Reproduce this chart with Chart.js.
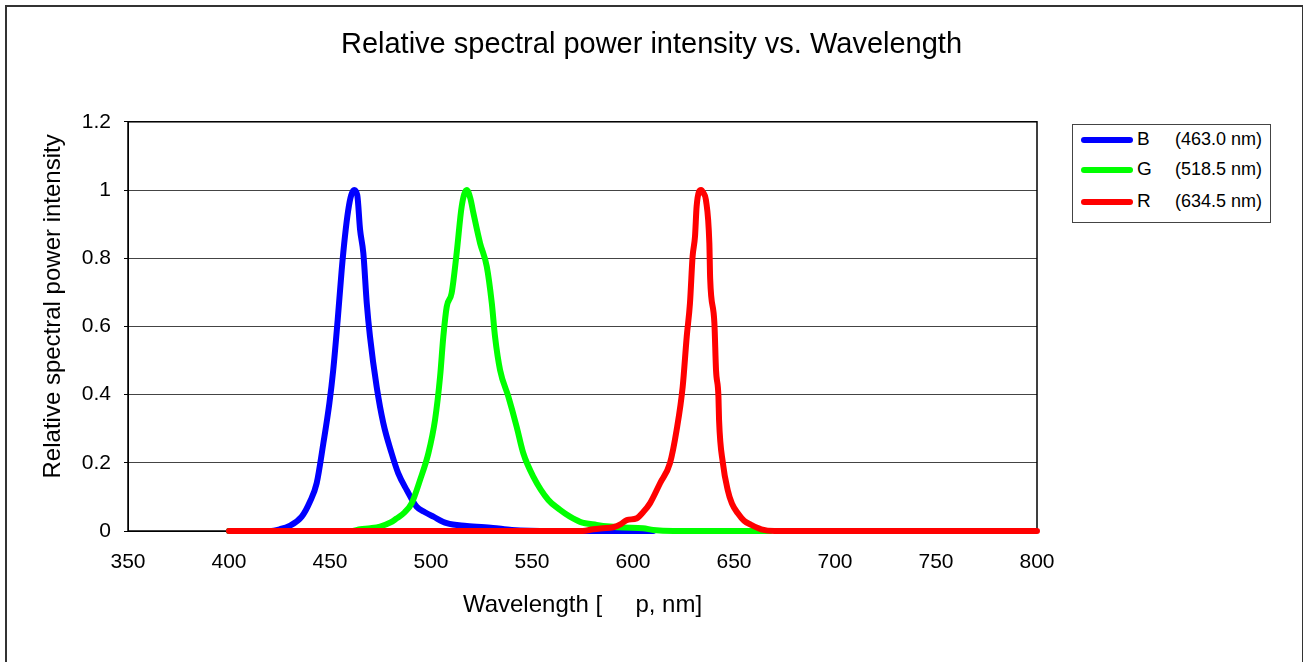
<!DOCTYPE html>
<html>
<head>
<meta charset="utf-8">
<script src="https://cdn.jsdelivr.net/npm/chart.js@4.4.1/dist/chart.umd.min.js"></script>
<style>
  html, body { margin: 0; padding: 0; background: #fff; }
  #wrap { position: relative; width: 1303px; height: 662px; overflow: hidden; font-family: "Liberation Sans", Arial, sans-serif; }
  #frame { position: absolute; left: 5px; top: 5px; width: 1295px; height: 700px; border: 2px solid #333; pointer-events: none; }
  #legend { position: absolute; left: 1072px; top: 124px; width: 197px; height: 97px; border: 1px solid #444; background: #fff; }
  .row { position: absolute; left: 0; height: 24px; width: 100%; font-size: 19px; color: #000; }
  .row .swatch { position: absolute; left: 8px; top: 10px; width: 52px; height: 6px; border-radius: 3px; }
  .row .key { position: absolute; left: 64px; top: 1px; }
  .row .peak { position: absolute; left: 102px; top: 1px; font-size: 18px; top: 2px; }
</style>
</head>
<body>
<div id="wrap">
  <canvas id="chart" width="1303" height="662"></canvas>
  <div id="frame"></div>
  <div id="legend"></div>
</div>
<script>
  // spectra: wavelength (nm) and relative intensity
  const blueNm  = [400, 420, 425, 430, 436, 440, 443.4, 446.7, 449.7, 451.6, 453.8, 455.8, 457.4, 459, 460.5, 462, 463.5, 464.9, 466.5, 468.2, 469.8, 473.1, 476.4, 480.5, 483.8, 488, 492.9, 497, 501.2, 507.8, 517.7, 530.7, 540, 560, 610];
  const blueVal = [0, 0, 0.005, 0.015, 0.042, 0.085, 0.14, 0.257, 0.375, 0.472, 0.619, 0.766, 0.864, 0.94, 0.985, 1.0, 0.985, 0.883, 0.815, 0.668, 0.57, 0.423, 0.316, 0.228, 0.169, 0.12, 0.071, 0.055, 0.042, 0.023, 0.015, 0.009, 0.003, 0, 0];

  const greenNm  = [400, 460, 465, 470, 474.8, 480, 483, 487, 490.4, 494.6, 498.7, 502, 504.5, 506.1, 507.8, 510.2, 512.7, 515.2, 517.7, 519.5, 521, 524.3, 527.6, 530.1, 531.7, 534.2, 538.3, 542.4, 545.7, 550.7, 558.1, 563.9, 568.8, 573.8, 582, 588.6, 595, 605, 610, 620, 668];
  const greenVal = [0, 0, 0.005, 0.008, 0.013, 0.025, 0.037, 0.055, 0.081, 0.15, 0.228, 0.326, 0.453, 0.57, 0.658, 0.697, 0.815, 0.952, 1.0, 0.975, 0.932, 0.844, 0.776, 0.668, 0.57, 0.472, 0.394, 0.306, 0.228, 0.159, 0.091, 0.062, 0.042, 0.027, 0.018, 0.013, 0.01, 0.008, 0.003, 0, 0];

  const redNm  = [400, 575, 580.3, 585, 590.2, 594, 596.9, 601.8, 605, 608.4, 613.4, 618.3, 621.6, 624.6, 626.6, 628.2, 629.5, 630.7, 631.5, 633.7, 635, 636.1, 637.8, 638.2, 640.3, 641.1, 642.3, 642.6, 644.5, 646.9, 649, 651.9, 655, 658.5, 663.5, 670, 800];
  const redVal = [0, 0, 0.005, 0.008, 0.011, 0.02, 0.032, 0.037, 0.055, 0.081, 0.14, 0.199, 0.296, 0.423, 0.57, 0.668, 0.805, 0.864, 0.952, 1.0, 0.99, 0.971, 0.844, 0.74, 0.609, 0.472, 0.394, 0.326, 0.199, 0.12, 0.08, 0.052, 0.03, 0.018, 0.005, 0, 0];

  const seriesNames = ["B", "G", "R"];
  const peakLabels = ["(463.0 nm)", "(518.5 nm)", "(634.5 nm)"];
  const seriesColors = ["#0000FF", "#00FF00", "#FF0000"];

  const xMin = 350, xMax = 800, xStep = 50;
  const yMin = 0, yMax = 1.2, yStep = 0.2;

  const pts = (xs, ys) => xs.map((x, i) => ({ x, y: ys[i] }));
  const FONT = "'Liberation Sans', Arial, sans-serif";

  // legend box (html, right side)
  const legendEl = document.getElementById("legend");
  const rowTops = [2, 32, 64];
  seriesNames.forEach((name, i) => {
    legendEl.insertAdjacentHTML("beforeend",
      `<div class="row" style="top:${rowTops[i]}px"><span class="swatch" style="background:${seriesColors[i]}"></span><span class="key">${name}</span><span class="peak">${peakLabels[i]}</span></div>`);
  });

  // black frame round the plot area
  const plotBorder = {
    id: "plotBorder",
    beforeDatasetsDraw(chart) {
      const { ctx, chartArea: a } = chart;
      ctx.save();
      ctx.strokeStyle = "#000";
      ctx.lineWidth = 1.5;
      ctx.strokeRect(a.left, a.top, a.right - a.left, a.bottom - a.top);
      ctx.restore();
    }
  };

  const ds = (i, xs, ys, order) => ({
    label: seriesNames[i],
    data: pts(xs, ys),
    borderColor: seriesColors[i],
    backgroundColor: seriesColors[i],
    borderWidth: 6,
    borderJoinStyle: "round",
    borderCapStyle: "round",
    pointRadius: 0,
    showLine: true,
    clip: false,
    cubicInterpolationMode: "monotone",
    order
  });

  new Chart(document.getElementById("chart"), {
    type: "scatter",
    data: {
      datasets: [
        ds(0, blueNm, blueVal, 2),
        ds(1, greenNm, greenVal, 1),
        ds(2, redNm, redVal, 0)
      ]
    },
    options: {
      responsive: false,
      animation: false,
      layout: { padding: { left: 0, right: 0, top: 0, bottom: 0 } },
      plugins: {
        legend: { display: false },
        tooltip: { enabled: false },
        title: {
          display: true,
          text: "Relative spectral power intensity vs. Wavelength",
          color: "#000",
          font: { family: FONT, size: 29, weight: "normal" },
          padding: { top: 28, bottom: 59 }
        }
      },
      scales: {
        x: {
          type: "linear", min: xMin, max: xMax,
          ticks: { stepSize: xStep, color: "#000", padding: 19, font: { family: FONT, size: 21 } },
          grid: { drawOnChartArea: false, drawTicks: false },
          border: { color: "#000", width: 1 },
          title: { display: true, text: "Wavelength [     p, nm]", color: "#000", font: { family: FONT, size: 24 }, padding: { top: 0, bottom: 42 } },
          afterFit: (s) => { s.height = 131; }
        },
        y: {
          type: "linear", min: yMin, max: yMax,
          ticks: { stepSize: yStep, color: "#000", padding: 13, font: { family: FONT, size: 21 },
                   callback: (v) => String(Math.round(v * 10) / 10) },
          grid: { color: "#444", lineWidth: 1, tickLength: 4, tickColor: "#000" },
          border: { color: "#000", width: 1 },
          title: { display: true, text: "      Relative spectral power intensity", color: "#000", font: { family: FONT, size: 24 }, padding: { top: 39, bottom: 0 } },
          afterFit: (s) => { s.width = 128; }
        },
        yRight: {
          type: "linear", position: "right", min: yMin, max: yMax,
          ticks: { display: false },
          grid: { display: false },
          border: { display: false },
          afterFit: (s) => { s.width = 266; }
        }
      }
    },
    plugins: [plotBorder]
  });
</script>
</body>
</html>
